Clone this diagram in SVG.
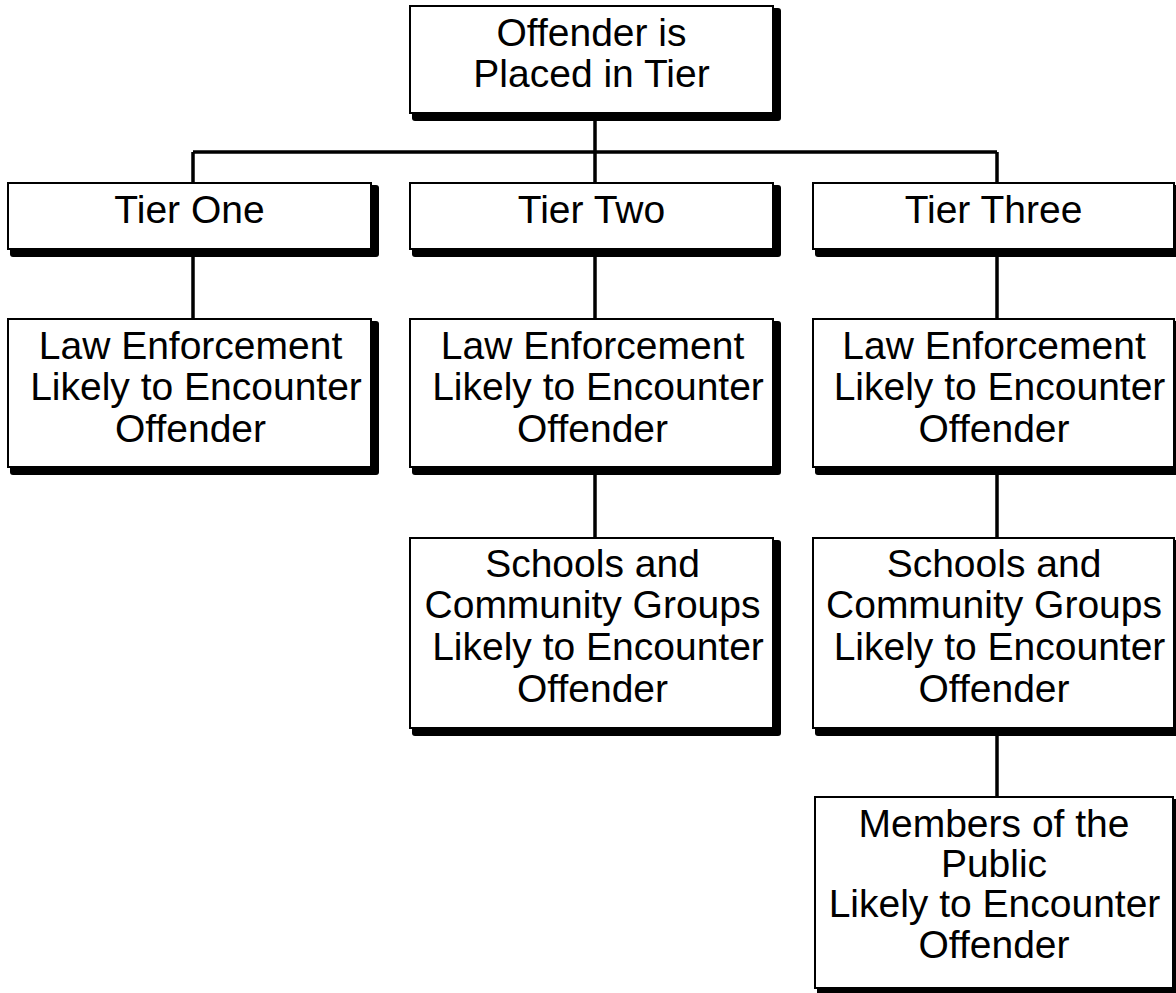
<svg xmlns="http://www.w3.org/2000/svg" width="1176" height="993" viewBox="0 0 1176 993">
<style>
.box{fill:#fff;stroke:#000;stroke-width:2}
.sh{fill:#000}
.t{font-family:"Liberation Sans",Arial,sans-serif;font-size:39px;fill:#000;text-anchor:middle}
.c{stroke:#000;stroke-width:3.5;fill:none}
</style>
<rect width="1176" height="993" fill="#fff"/>
<g id="connectors">
<path class="c" d="M595 121V152M193 152H997M193 152V183M595 152V183M997 152V183"/>
<path class="c" d="M193 257V319M595 257V319M997 257V319"/>
<path class="c" d="M595 475V538M997 475V538"/>
<path class="c" d="M997 736V797"/>
</g>
<g id="root">
<rect class="sh" x="412" y="8" width="369" height="113" rx="3"/>
<rect class="box" x="410" y="6" width="363" height="107"/>
<text class="t" x="591.5" y="46">Offender is</text>
<text class="t" x="591.5" y="87">Placed in Tier</text>
</g>
<g id="tier1">
<rect class="sh" x="10" y="185" width="369" height="72" rx="3"/>
<rect class="box" x="8" y="183" width="363" height="66"/>
<text class="t" x="189.5" y="223">Tier One</text>
</g>
<g id="tier2">
<rect class="sh" x="412" y="185" width="369" height="72" rx="3"/>
<rect class="box" x="410" y="183" width="363" height="66"/>
<text class="t" x="591.5" y="223">Tier Two</text>
</g>
<g id="tier3">
<rect class="sh" x="815" y="185" width="367" height="72" rx="3"/>
<rect class="box" x="813" y="183" width="361" height="66"/>
<text class="t" x="993.5" y="223">Tier Three</text>
</g>
<g id="le1">
<rect class="sh" x="10" y="321" width="369" height="154" rx="3"/>
<rect class="box" x="8" y="319" width="363" height="148"/>
<text class="t" x="190.5" y="359">Law Enforcement</text>
<text class="t" x="196" y="400">Likely to Encounter</text>
<text class="t" x="190.5" y="442">Offender</text>
</g>
<g id="le2">
<rect class="sh" x="412" y="321" width="369" height="154" rx="3"/>
<rect class="box" x="410" y="319" width="363" height="148"/>
<text class="t" x="592.5" y="359">Law Enforcement</text>
<text class="t" x="598" y="400">Likely to Encounter</text>
<text class="t" x="592.5" y="442">Offender</text>
</g>
<g id="le3">
<rect class="sh" x="815" y="321" width="367" height="154" rx="3"/>
<rect class="box" x="813" y="319" width="361" height="148"/>
<text class="t" x="994" y="359">Law Enforcement</text>
<text class="t" x="999.5" y="400">Likely to Encounter</text>
<text class="t" x="994" y="442">Offender</text>
</g>
<g id="sc2">
<rect class="sh" x="412" y="540" width="369" height="196" rx="3"/>
<rect class="box" x="410" y="538" width="363" height="190"/>
<text class="t" x="592.5" y="577">Schools and</text>
<text class="t" x="592.5" y="618">Community Groups</text>
<text class="t" x="598" y="660">Likely to Encounter</text>
<text class="t" x="592.5" y="702">Offender</text>
</g>
<g id="sc3">
<rect class="sh" x="815" y="540" width="367" height="196" rx="3"/>
<rect class="box" x="813" y="538" width="361" height="190"/>
<text class="t" x="994" y="577">Schools and</text>
<text class="t" x="994" y="618">Community Groups</text>
<text class="t" x="999.5" y="660">Likely to Encounter</text>
<text class="t" x="994" y="702">Offender</text>
</g>
<g id="pub3">
<rect class="sh" x="817" y="799" width="364" height="197" rx="3"/>
<rect class="box" x="815" y="797" width="358" height="191"/>
<text class="t" x="994" y="837">Members of the</text>
<text class="t" x="994" y="877">Public</text>
<text class="t" x="994.5" y="917">Likely to Encounter</text>
<text class="t" x="994" y="958">Offender</text>
</g>
</svg>
